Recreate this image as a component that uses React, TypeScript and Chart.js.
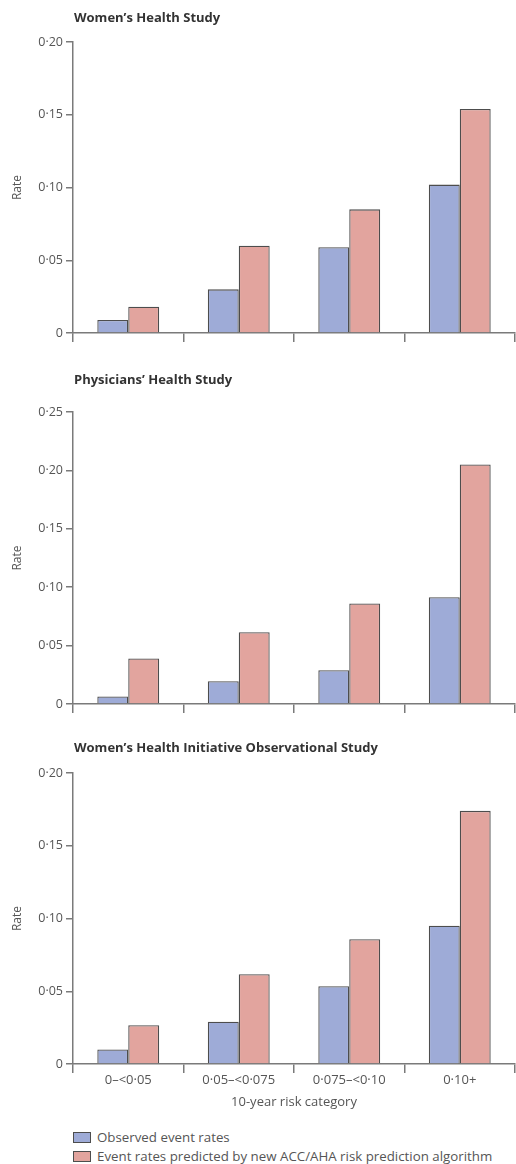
import React, { useEffect, useRef } from "react";
import Chart from "chart.js/auto";

const categories = ["0–<0·05", "0·05–<0·075", "0·075–<0·10", "0·10+"];
const seriesNames = [
  "Observed event rates",
  "Event rates predicted by new ACC/AHA risk prediction algorithm",
];
const whsObserved = [0.009, 0.030, 0.059, 0.102];
const whsPredicted = [0.018, 0.060, 0.085, 0.154];
const phsObserved = [0.0065, 0.0195, 0.029, 0.0915];
const phsPredicted = [0.039, 0.0615, 0.086, 0.205];
const whiosObserved = [0.010, 0.029, 0.0535, 0.095];
const whiosPredicted = [0.0267, 0.0617, 0.0857, 0.174];
const panelTitles = [
  "Women’s Health Study",
  "Physicians’ Health Study",
  "Women’s Health Initiative Observational Study",
];
const yMaxes = [0.2, 0.25, 0.2];
const yTitle = "Rate";
const xTitle = "10-year risk category";

const FONT = '"Open Sans", "Liberation Sans", sans-serif';
const BLUE = "#9eabd7";
const RED = "#e2a49e";
const EDGE = "#4d4d4d";
const AXIS = "#7a7a7a";
const TEXT = "#555555";

const fmt = (v: number) => (v === 0 ? "0" : v.toFixed(2).replace(".", "·"));

const titlePlugin = {
  id: "panelTitle",
  afterDraw(chart: any, _args: any, opts: any) {
    const ctx = chart.ctx;
    ctx.save();
    ctx.font = `bold 13px ${FONT}`;
    ctx.fillStyle = "#333333";
    ctx.textBaseline = "middle";
    ctx.textAlign = "left";
    ctx.fillText(opts.text, opts.x, opts.y);
    ctx.restore();
  },
};

type PanelProps = {
  top: number;
  height: number;
  padTop: number;
  xHeight: number;
  titleY: number;
  title: string;
  observed: number[];
  predicted: number[];
  yMax: number;
  showX: boolean;
};

function Panel(p: PanelProps) {
  const ref = useRef<HTMLCanvasElement | null>(null);
  useEffect(() => {
    if (!ref.current) return;
    const chart = new Chart(ref.current, {
      type: "bar",
      data: {
        labels: categories,
        datasets: [
          {
            label: seriesNames[0],
            data: p.observed,
            backgroundColor: BLUE,
            borderColor: EDGE,
            borderWidth: 1.3,
          },
          {
            label: seriesNames[1],
            data: p.predicted,
            backgroundColor: RED,
            borderColor: EDGE,
            borderWidth: 1.3,
          },
        ],
      },
      plugins: [titlePlugin],
      options: {
        responsive: false,
        animation: false,
        devicePixelRatio: 1,
        layout: { padding: { top: p.padTop, right: 1, left: 0, bottom: 0 } },
        datasets: { bar: { categoryPercentage: 0.56, barPercentage: 1 } },
        plugins: {
          legend: { display: false },
          tooltip: { enabled: false },
          panelTitle: { text: p.title, x: 74, y: p.titleY },
        } as any,
        scales: {
          x: {
            offset: true,
            afterFit: (s: any) => {
              s.height = p.xHeight;
            },
            grid: {
              offset: true,
              drawOnChartArea: false,
              drawTicks: true,
              tickLength: 9,
              color: AXIS,
              lineWidth: 1.5,
            },
            border: { color: AXIS, width: 1.5 },
            ticks: {
              display: p.showX,
              color: TEXT,
              font: { family: FONT, size: 13 },
              padding: -1,
              maxRotation: 0,
            },
            title: {
              display: p.showX,
              text: xTitle,
              color: TEXT,
              font: { family: FONT, size: 13 },
              padding: { top: 1, bottom: 0 },
            },
          },
          y: {
            min: 0,
            max: p.yMax,
            afterFit: (s: any) => {
              s.width = 73;
            },
            grid: {
              drawOnChartArea: false,
              drawTicks: true,
              tickLength: 7,
              color: AXIS,
              lineWidth: 1.5,
            },
            border: { color: AXIS, width: 1.5 },
            ticks: {
              stepSize: 0.05,
              color: TEXT,
              font: { family: FONT, size: 12.5 },
              padding: 3,
              callback: (v: any) => fmt(Number(v)),
            },
            title: {
              display: true,
              text: yTitle,
              color: TEXT,
              font: { family: FONT, size: 12 },
              padding: { top: 10, bottom: 0 },
            },
          },
        },
      },
    } as any);
    return () => chart.destroy();
  }, []);
  return (
    <canvas
      ref={ref}
      width={516}
      height={p.height}
      style={{ position: "absolute", left: 0, top: p.top, width: 516, height: p.height, display: "block" }}
    />
  );
}

export default function App() {
  const legendRow = (color: string, text: string, top: number) => (
    <div
      style={{
        position: "absolute",
        left: 73,
        top,
        height: 18,
        display: "flex",
        alignItems: "center",
        fontFamily: FONT,
        fontSize: 13.3,
        color: TEXT,
        whiteSpace: "nowrap",
      }}
    >
      <span
        style={{
          display: "inline-block",
          width: 16,
          height: 9,
          background: color,
          border: `1px solid ${EDGE}`,
          marginRight: 6,
        }}
      />
      <span>{text}</span>
    </div>
  );
  return (
    <div style={{ position: "absolute", left: 0, top: 0, width: 516, height: 1164, background: "#fff", overflow: "hidden" }}>
      <Panel top={0} height={345} padTop={42} xHeight={12} titleY={18} title={panelTitles[0]}
        observed={whsObserved} predicted={whsPredicted} yMax={yMaxes[0]} showX={false} />
      <Panel top={360} height={356} padTop={52} xHeight={12} titleY={20} title={panelTitles[1]}
        observed={phsObserved} predicted={phsPredicted} yMax={yMaxes[1]} showX={false} />
      <Panel top={725} height={385} padTop={48} xHeight={46} titleY={23} title={panelTitles[2]}
        observed={whiosObserved} predicted={whiosPredicted} yMax={yMaxes[2]} showX={true} />
      {legendRow(BLUE, seriesNames[0], 1128)}
      {legendRow(RED, seriesNames[1], 1147)}
    </div>
  );
}
